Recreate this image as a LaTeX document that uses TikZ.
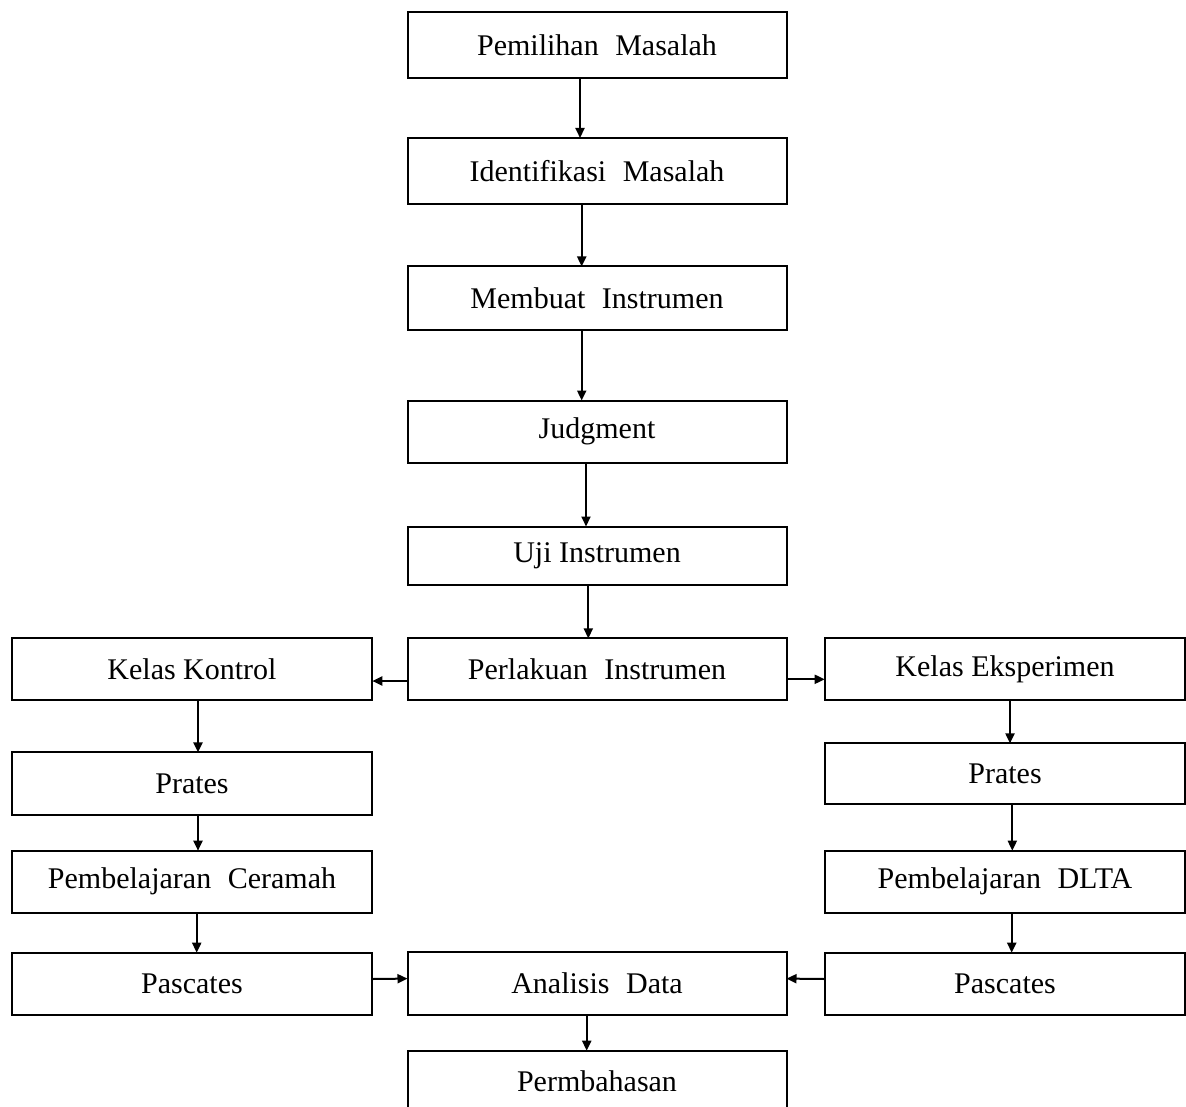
\documentclass[tikz,border=0pt]{standalone}
\usepackage{fontspec}
\setmainfont{Liberation Serif}
\usetikzlibrary{arrows.meta}
\newcommand\wsp{\hspace{0.55em}}
\begin{document}
\begin{tikzpicture}[x=0.5pt,y=-0.5pt,
  box/.style={draw=black, line width=1pt, inner sep=0pt, outer sep=0pt,
    font=\fontsize{15}{18}\selectfont, text=black},
  cbox/.style={box, minimum width=189.5pt},
  sbox/.style={box, minimum width=180.3pt},
  arr/.style={draw=black, line width=1pt, -{Triangle[length=5pt,width=4.5pt]}}]
\useasboundingbox (0,0) rectangle (1186,1106);
% centre column
\node[cbox, minimum height=33pt] (pem) at (597,45) {Pemilihan\wsp Masalah};
\node[cbox, minimum height=33pt] (ide) at (597,171) {Identifikasi\wsp Masalah};
\node[cbox, minimum height=32pt] (mem) at (597,298.5) {Membuat\wsp Instrumen};
\node[cbox, minimum height=31pt] (jud) at (597,431.5) {Judgment};
\node[cbox, minimum height=29pt] (uji) at (597,555.5) {Uji Instrumen};
\node[cbox, minimum height=31pt] (per) at (597,669.4) {Perlakuan\wsp Instrumen};
\node[cbox, minimum height=31.2pt] (ana) at (597,983.5) {Analisis\wsp Data};
\node[cbox, minimum height=31pt] (bah) at (597,1081.7) {Permbahasan};
% left column
\node[sbox, minimum height=31pt] (kk) at (192,669.4) {Kelas Kontrol};
\node[sbox, minimum height=31.3pt] (prl) at (192,783.7) {Prates};
\node[sbox, minimum height=31pt] (pcl) at (192,881.7) {Pembelajaran\wsp Ceramah};
\node[sbox, minimum height=31.2pt] (psl) at (192,983.9) {Pascates};
% right column
\node[sbox, minimum height=31pt] (ke) at (1005,669.4) {Kelas Eksperimen};
\node[sbox, minimum height=30.3pt] (prr) at (1005,773.7) {Prates};
\node[sbox, minimum height=31pt] (pcr) at (1005,881.7) {Pembelajaran\wsp DLTA};
\node[sbox, minimum height=31.2pt] (psr) at (1005,983.9) {Pascates};
% connectors
\draw[arr] ([xshift=-8.5pt]pem.south) -- ([xshift=-8.5pt]ide.north);
\draw[arr] ([xshift=-7.65pt]ide.south) -- ([xshift=-7.65pt]mem.north);
\draw[arr] ([xshift=-7.65pt]mem.south) -- ([xshift=-7.65pt]jud.north);
\draw[arr] ([xshift=-5.5pt]jud.south) -- ([xshift=-5.5pt]uji.north);
\draw[arr] ([xshift=-4.35pt]uji.south) -- ([xshift=-4.35pt]per.north);
\draw[arr] ([yshift=-5.8pt]per.west) -- ([yshift=-5.8pt]kk.east);
\draw[arr] ([yshift=-4.95pt]per.east) -- ([yshift=-4.95pt]ke.west);
\draw[arr] ([xshift=3pt]kk.south) -- ([xshift=3pt]prl.north);
\draw[arr] ([xshift=3pt]prl.south) -- ([xshift=3pt]pcl.north);
\draw[arr] ([xshift=2.35pt]pcl.south) -- ([xshift=2.35pt]psl.north);
\draw[arr] ([xshift=2.5pt]ke.south) -- ([xshift=2.5pt]prr.north);
\draw[arr] ([xshift=3.65pt]prr.south) -- ([xshift=3.65pt]pcr.north);
\draw[arr] ([xshift=3.35pt]pcr.south) -- ([xshift=3.35pt]psr.north);
\draw[arr] ([yshift=2.45pt]psl.east) -- ([yshift=2.45pt]ana.west);
\draw[arr] ([yshift=2.45pt]psr.west) -- ([yshift=2.45pt]ana.east);
\draw[arr] ([xshift=-5.15pt]ana.south) -- ([xshift=-5.15pt]bah.north);
\end{tikzpicture}
\end{document}
